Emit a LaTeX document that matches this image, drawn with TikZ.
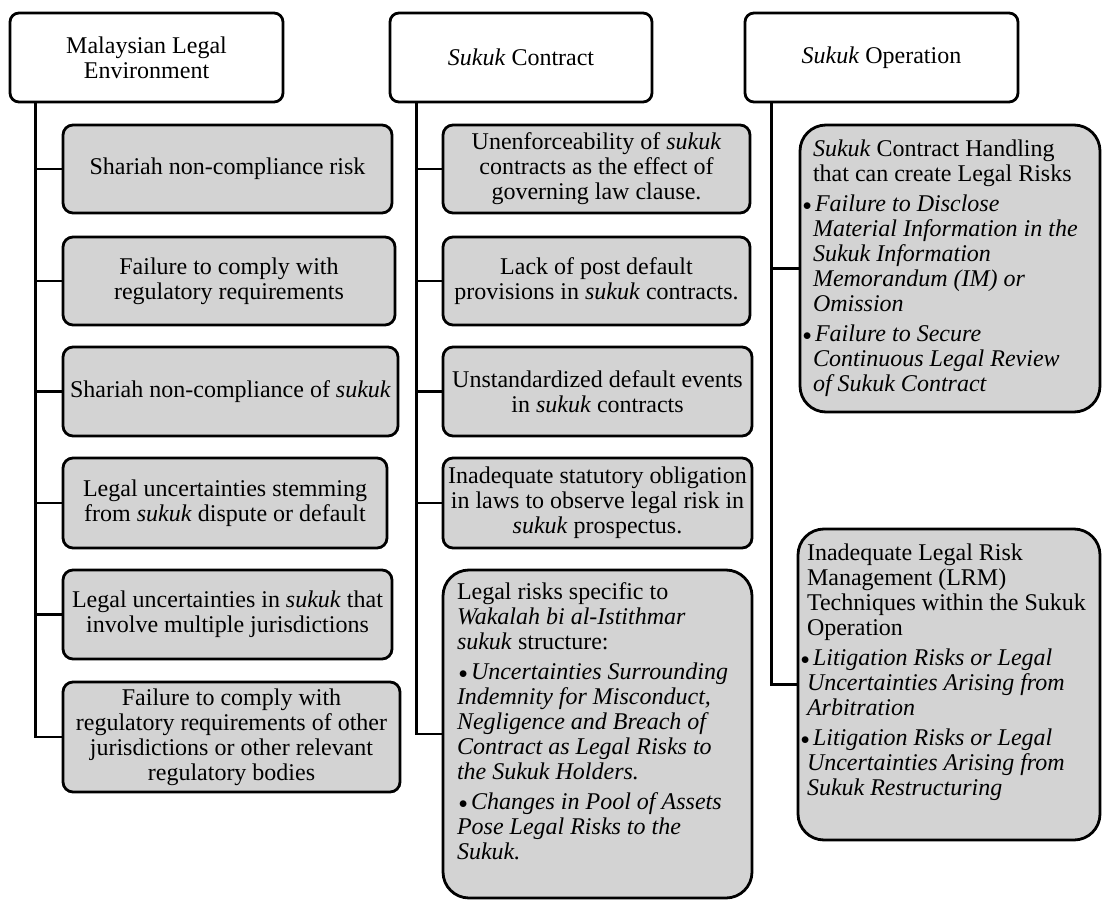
\documentclass[tikz,border=0pt]{standalone}
\usepackage{graphicx}
\usepackage{fontspec}
\setmainfont{Liberation Serif}
\definecolor{boxgray}{HTML}{D3D3D3}
% bullet entry with a hanging indent of #1
\newcommand\bitem[2]{\par\vspace{5pt}\hangindent=#1\hangafter=1\noindent
  \makebox[#1][r]{\raisebox{1.5pt}{\scalebox{0.7}{$\bullet$}}\hspace{3.5pt}}\textit{#2}}
\tikzset{
  head/.style={draw, line width=2.8pt, rounded corners=9pt, fill=white,
    align=center, inner sep=0pt, font=\fontsize{24}{25}\selectfont},
  riskbox/.style={draw, line width=2.8pt, rounded corners=10pt, fill=boxgray,
    align=center, inner sep=0pt, font=\fontsize{24}{25}\selectfont},
  listbox/.style={riskbox, rounded corners=26pt},
  link/.style={line width=2.8pt}
}
\begin{document}
\begin{tikzpicture}[x=1pt,y=-1pt]
\useasboundingbox (0,0) rectangle (1102,901);

% column headers
\node[head, minimum width=273, minimum height=89] (h1) at (146.5,57.5) {Malaysian Legal\\Environment};
\node[head, minimum width=262, minimum height=89] (h2) at (521,57.5) {\textit{Sukuk} Contract};
\node[head, minimum width=273, minimum height=89] (h3) at (881.5,57.5) {\textit{Sukuk} Operation};

% Malaysian legal environment
\node[riskbox, minimum width=329, minimum height=88] (a1) at (227.5,169) {Shariah non-compliance risk};
\node[riskbox, minimum width=332, minimum height=88] (a2) at (229,281) {Failure to comply with\\regulatory requirements};
\node[riskbox, minimum width=335, minimum height=89] (a3) at (230.5,391.5) {Shariah non-compliance of \textit{sukuk}};
\node[riskbox, minimum width=324, minimum height=90] (a4) at (225,503) {Legal uncertainties stemming\\from \textit{sukuk} dispute or default};
\node[riskbox, minimum width=329, minimum height=89] (a5) at (227.5,614.5) {Legal uncertainties in \textit{sukuk} that\\involve multiple jurisdictions};
\node[riskbox, minimum width=337, minimum height=110] (a6) at (231.5,737) {Failure to comply with\\regulatory requirements of other\\jurisdictions or other relevant\\regulatory bodies};

% sukuk contract
\node[riskbox, minimum width=307, minimum height=88] (b1) at (596.5,169) {Unenforceability of \textit{sukuk}\\contracts as the effect of\\governing law clause.};
\node[riskbox, minimum width=307, minimum height=88] (b2) at (596.5,281) {Lack of post default\\provisions in \textit{sukuk} contracts.};
\node[riskbox, minimum width=309, minimum height=89] (b3) at (597.5,391.5) {Unstandardized default events\\in \textit{sukuk} contracts};
\node[riskbox, minimum width=309, minimum height=90] (b4) at (597.5,503) {Inadequate statutory obligation\\in laws to observe legal risk in\\\textit{sukuk} prospectus.};
\node[listbox, minimum width=309, minimum height=328] (b5) at (597.5,734) {\parbox[c][302pt][t]{281pt}{\raggedright
  Legal risks specific to\\\textit{Wakalah bi al-Istithmar}\\\textit{sukuk} structure:
  \bitem{14pt}{Uncertainties Surrounding\\Indemnity for Misconduct,\\Negligence and Breach of\\Contract as Legal Risks to\\the Sukuk Holders.}
  \bitem{14pt}{Changes in Pool of Assets\\Pose Legal Risks to the\\Sukuk.}}};

% sukuk operation
\node[listbox, minimum width=300, minimum height=287] (c1) at (950,268.5) {\parbox[c][257pt][t]{274pt}{\raggedright
  \textit{Sukuk} Contract Handling\\that can create Legal Risks
  \bitem{2pt}{Failure to Disclose\\Material Information in the\\Sukuk Information\\Memorandum (IM) or\\Omission}
  \bitem{2pt}{Failure to Secure\\Continuous Legal Review\\of Sukuk Contract}}};
\node[listbox, minimum width=302, minimum height=311] (c2) at (949,684.5) {\parbox[c][281pt][t]{284pt}{\raggedright
  Inadequate Legal Risk\\Management (LRM)\\Techniques within the Sukuk\\Operation
  \bitem{6pt}{Litigation Risks or Legal\\Uncertainties Arising from\\Arbitration}
  \bitem{6pt}{Litigation Risks or Legal\\Uncertainties Arising from\\Sukuk Restructuring}}};

% trunks and branches
\coordinate (t1) at ([xshift=27pt]h1.south west);
\coordinate (t2) at ([xshift=28pt]h2.south west);
\coordinate (t3) at ([xshift=28pt]h3.south west);
\draw[link] (t1) |- (a6.west);
\foreach \n in {a1,a2,a3,a4,a5} \draw[link] (\n.west -| t1) -- (\n.west);
\draw[link] (t2) |- (b5.west);
\foreach \n in {b1,b2,b3,b4} \draw[link] (\n.west -| t2) -- (\n.west);
\draw[link] (t3) |- (c2.west);
\draw[link] (c1.west -| t3) -- (c1.west);
\end{tikzpicture}
\end{document}
